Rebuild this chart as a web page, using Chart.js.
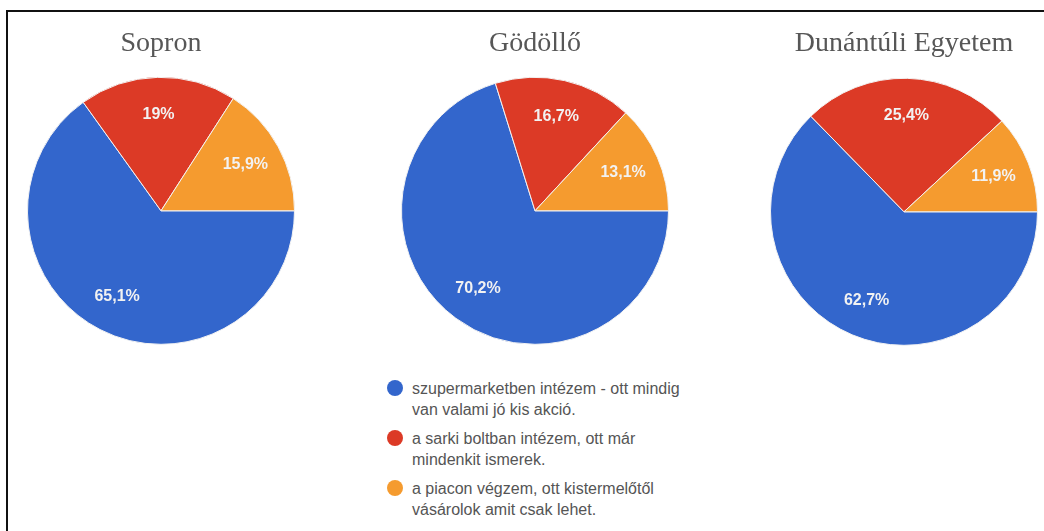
<!DOCTYPE html>
<html>
<head>
<meta charset="utf-8">
<script src="https://cdn.jsdelivr.net/npm/chart.js@4.4.1/dist/chart.umd.min.js"></script>
<style>
    html, body { margin: 0; padding: 0; background: #fff; width: 1044px; height: 531px; overflow: hidden; }
    .frame { position: absolute; left: 6px; top: 10px; right: 0; bottom: 0; border-top: 2px solid #111; border-left: 2px solid #111; }
    .pie { position: absolute; top: 20px; width: 268px; height: 326px; }
    #legend { position: absolute; left: 386px; top: 378px; font-family: "Liberation Sans", Arial, sans-serif; font-size: 16px; line-height: 21px; color: #555; }
    .item { position: relative; padding-left: 26px; margin-bottom: 8px; }
    .dot { position: absolute; left: 1px; top: 2px; width: 16px; height: 16px; border-radius: 50%; }
</style>
</head>
<body>
<div class="frame"></div>
<div class="pie" style="left:27px"><canvas id="c0"></canvas></div>
<div class="pie" style="left:401px"><canvas id="c1"></canvas></div>
<div class="pie" style="left:770px; top:22px"><canvas id="c2"></canvas></div>
<div id="legend"></div>
<script>
const titles = ['Sopron', 'Gödöllő', 'Dunántúli Egyetem'];
const categories = [
    ['szupermarketben intézem - ott mindig', 'van valami jó kis akció.'],
    ['a sarki boltban intézem, ott már', 'mindenkit ismerek.'],
    ['a piacon végzem, ott kistermelőtől', 'vásárolok amit csak lehet.']
];
const sopron = [65.1, 19, 15.9];
const godollo = [70.2, 16.7, 13.1];
const dunantuli = [62.7, 25.4, 11.9];
const colors = ['#3366cc', '#dc3a26', '#f59b2f'];

const series = [sopron, godollo, dunantuli];

// percentage labels inside slices
const sliceLabels = {
    id: 'sliceLabels',
    afterDatasetsDraw(chart) {
        const ctx = chart.ctx;
        const values = chart.data.datasets[0].data;
        chart.getDatasetMeta(0).data.forEach((arc, i) => {
            const mid = (arc.startAngle + arc.endAngle) / 2;
            const r = arc.outerRadius * 0.72;
            ctx.save();
            ctx.fillStyle = '#f2f2f2';
            ctx.font = 'bold 16px "Liberation Sans", Arial, sans-serif';
            ctx.textAlign = 'center';
            ctx.textBaseline = 'middle';
            ctx.fillText(String(values[i]).replace('.', ',') + '%', arc.x + Math.cos(mid) * r, arc.y + Math.sin(mid) * r);
            ctx.restore();
        });
    }
};

series.forEach((values, n) => {
    new Chart(document.getElementById('c' + n), {
        type: 'pie',
        data: {
            labels: categories.map(c => c.join(' ')),
            datasets: [{
                data: values,
                backgroundColor: colors,
                borderColor: '#f2f2f2',
                borderWidth: 1
            }]
        },
        options: {
            responsive: true,
            maintainAspectRatio: false,
            animation: false,
            rotation: 90,
            layout: { padding: 0 },
            plugins: {
                legend: { display: false },
                tooltip: { enabled: false },
                title: {
                    display: true,
                    text: titles[n],
                    color: '#575757',
                    font: { family: '"Liberation Serif", "Times New Roman", serif', size: 28, weight: 'normal' },
                    padding: { top: n === 2 ? 5 : 7, bottom: 15 }
                }
            }
        },
        plugins: [sliceLabels]
    });
});

const legend = document.getElementById('legend');
categories.forEach((lines, i) => {
    const item = document.createElement('div');
    item.className = 'item';
    item.innerHTML = '<span class="dot" style="background:' + colors[i] + '"></span>' + lines.join('<br>');
    legend.appendChild(item);
});
</script>
</body>
</html>
